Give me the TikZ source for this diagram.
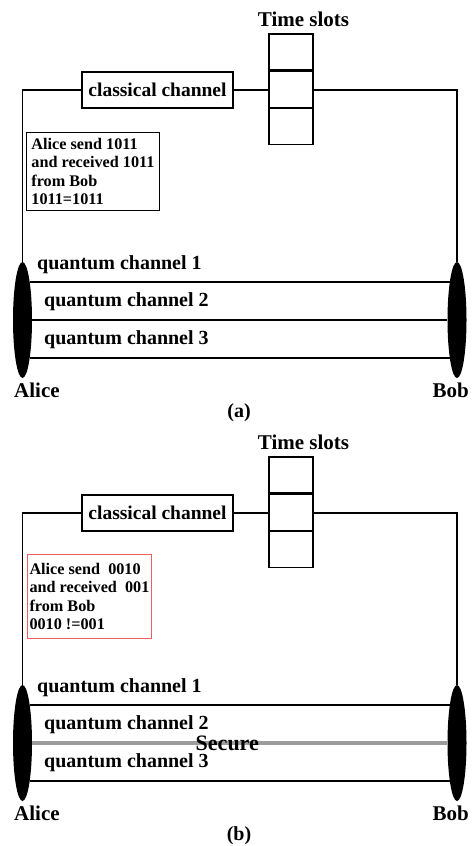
\documentclass[tikz,border=0pt]{standalone}
\usepackage{fontspec}
\setmainfont{Liberation Serif}
\usetikzlibrary{shapes.geometric}
\definecolor{warnred}{HTML}{EE5F5F}
\definecolor{securegray}{HTML}{9C9C9C}
\begin{document}
\begin{tikzpicture}[x=1pt,y=-1pt,
    lbl/.style={font=\fontsize{20}{24}\selectfont\bfseries, inner sep=0pt},
    wire/.style={line width=1.3pt},
    slot/.style={draw, line width=1.3pt, minimum width=44pt, minimum height=36pt, inner sep=0pt},
    chanbox/.style={draw, line width=1.3pt, minimum width=151pt, minimum height=36pt, inner sep=0pt, font=\fontsize{19.5}{24}\selectfont\bfseries},
    party/.style={ellipse, fill=black, minimum width=19pt, minimum height=116pt, inner sep=0pt},
    infobox/.style={draw, line width=0.9pt, align=left, anchor=north west, inner xsep=2pt,
        font=\fontsize{16.2}{18.5}\selectfont\bfseries}]
    \useasboundingbox (0,0) rectangle (475,846);
    % common layout of both panels
    \foreach \p/\dy in {a/0,b/423}{
        \node[lbl, font=\fontsize{21}{24}\selectfont\bfseries] (slotlbl\p) at (303.5,{19+\dy}) {Time slots};
        \node[slot] (slot1\p) at (291,{52+\dy}) {};
        \node[slot, anchor=north] (slot2\p) at (slot1\p.south) {};
        \node[slot, anchor=north] (slot3\p) at (slot2\p.south) {};
        \node[chanbox] (class\p) at (157.5,{90+\dy}) {classical channel};
        \node[party] (alice\p) at (22.5,{320+\dy}) {};
        \node[party] (bob\p) at (457,{320+\dy}) {};
        \node[lbl, font=\fontsize{21}{24}\selectfont\bfseries, anchor=west] (alicelbl\p) at (14,{390+\dy}) {Alice};
        \node[lbl, font=\fontsize{21}{24}\selectfont\bfseries, anchor=east] (boblbl\p) at (469,{390+\dy}) {Bob};
        \node[lbl] (cap\p) at (239,{413+\dy}) {(\p)};
        \draw[wire] (class\p.west) -| (alice\p.north);
        \draw[wire] (class\p.east) -- (class\p.east -| slot2\p.west);
        \draw[wire] (slot2\p.east |- class\p.east) -| (bob\p.north);
        \draw[wire] (alice\p.79) -- (bob\p.101);
        \draw[wire] (alice\p.-79) -- (bob\p.-101);
        \node[lbl, anchor=west] (q1\p) at (37,{265+\dy}) {quantum channel 1};
        \node[lbl, anchor=west] (q2\p) at (44,{302+\dy}) {quantum channel 2};
        \node[lbl, anchor=west] (q3\p) at (44,{340+\dy}) {quantum channel 3};
    }
    % panel (a)
    \draw[wire] (alicea.east) -- (boba.west);
    \node[infobox, minimum width=133pt, minimum height=78pt] (infoa) at (26,132)
        {Alice send 1011\\and received 1011\\from Bob\\1011=1011};
    % panel (b)
    \draw[securegray, line width=4pt] (aliceb.east) -- (bobb.west)
        node[lbl, pos=0.47, text=black, font=\fontsize{22}{24}\selectfont\bfseries] (secure) {Secure};
    \node[infobox, draw=warnred, minimum width=124pt, minimum height=84pt] (infob) at (27,554)
        {Alice send\ \ 0010\\and received\ \ 001\\from Bob\\0010 !=001};
\end{tikzpicture}
\end{document}
